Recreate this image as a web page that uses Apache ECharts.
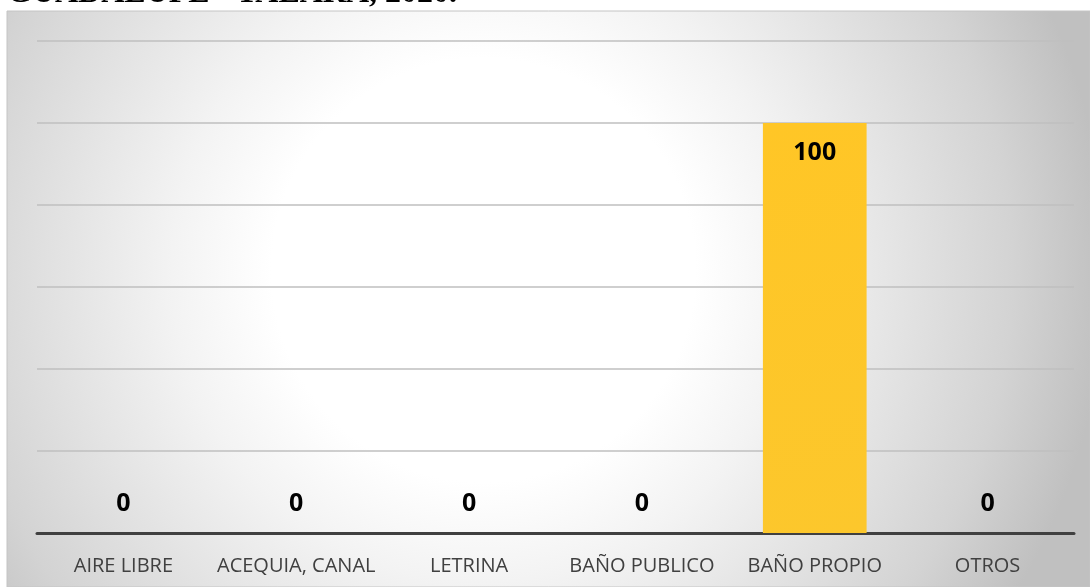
<!DOCTYPE html>
<html>
<head>
<meta charset="utf-8">
<script src="https://cdn.jsdelivr.net/npm/echarts@6/dist/echarts.min.js"></script>
<style>
  html, body { margin: 0; padding: 0; background: #ffffff; }
  #chart { width: 1090px; height: 587px; }
</style>
</head>
<body>
<div id="chart"></div>
<script>
// Tipo de servicio higiénico (%)
const categories = ['AIRE LIBRE', 'ACEQUIA, CANAL', 'LETRINA', 'BAÑO PUBLICO', 'BAÑO PROPIO', 'OTROS'];
const values = [0, 0, 0, 0, 100, 0];
const titleText = 'GUADALUPE - TALARA, 2020.';

const chart = echarts.init(document.getElementById('chart'), null, { renderer: 'canvas' });

const option = {
  animation: false,
  backgroundColor: '#ffffff',
  graphic: [
    {
      // chart area with radial shading
      type: 'rect',
      z: -10,
      silent: true,
      shape: { x: 7, y: 11, width: 1083, height: 576 },
      style: {
        fill: {
          type: 'radial', x: 0.44, y: 0.45, r: 1.08,
          colorStops: [
            { offset: 0, color: '#ffffff' },
            { offset: 0.34, color: '#ffffff' },
            { offset: 0.5, color: '#f3f3f3' },
            { offset: 0.85, color: '#d3d3d3' },
            { offset: 1, color: '#c0c0c0' }
          ]
        },
        stroke: '#c4c4c4',
        lineWidth: 1
      }
    },
    {
      type: 'text',
      left: 7,
      top: -22,
      silent: true,
      style: {
        text: titleText,
        font: 'bold 32px "Liberation Serif", "Times New Roman", serif',
        fill: '#000000'
      }
    }
  ],
  grid: { left: 37, right: 16, top: 41, bottom: 54, containLabel: false },
  xAxis: {
    type: 'category',
    data: categories,
    axisLine: { show: true, lineStyle: { color: '#404040', width: 3 } },
    axisTick: { show: false },
    axisLabel: {
      interval: 0,
      color: '#404040',
      fontFamily: '"Open Sans", "Noto Sans", sans-serif',
      fontSize: 20,
      margin: 23
    }
  },
  yAxis: {
    type: 'value',
    min: 0,
    max: 120,
    interval: 20,
    axisLine: { show: false },
    axisTick: { show: false },
    axisLabel: { show: false },
    splitLine: { show: true, lineStyle: { color: '#bfbfbf', width: 1.5 } }
  },
  series: [
    {
      type: 'bar',
      barWidth: '60%',
      data: values.map(v => ({
        value: v,
        label: { position: v === 0 ? 'top' : 'insideTop', distance: 17 }
      })),
      itemStyle: {
        color: {
          type: 'linear', x: 0, y: 0, x2: 1, y2: 1,
          colorStops: [
            { offset: 0, color: '#ffc626' },
            { offset: 1, color: '#fcc72c' }
          ]
        }
      },
      label: {
        show: true,
        color: '#000000',
        fontWeight: 'bold',
        fontSize: 25,
        fontFamily: '"Open Sans", "Noto Sans", sans-serif'
      }
    }
  ]
};

chart.setOption(option);
</script>
</body>
</html>
